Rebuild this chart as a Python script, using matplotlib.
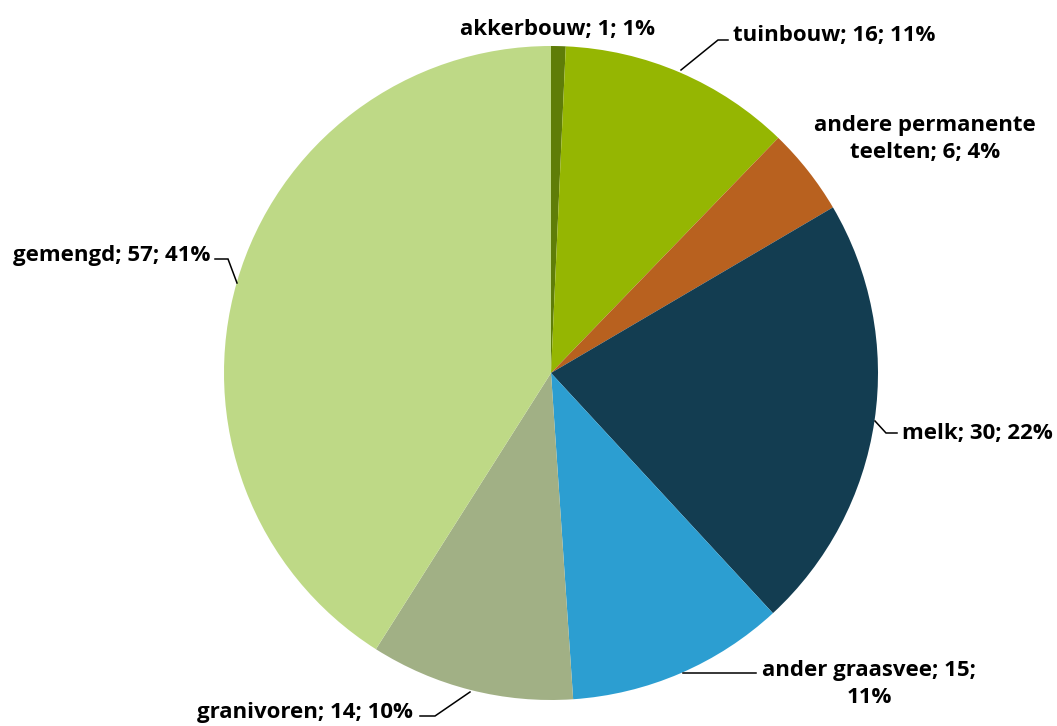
import matplotlib
matplotlib.use("Agg")
import matplotlib.pyplot as plt

categories = ["akkerbouw", "tuinbouw", "andere permanente teelten", "melk",
              "ander graasvee", "granivoren", "gemengd"]
values = [1, 16, 6, 30, 15, 14, 57]
percent_labels = ["1%", "11%", "4%", "22%", "11%", "10%", "41%"]
colors = ["#5F7D08", "#95B602", "#B8611F", "#133D51", "#2C9ED1", "#A1B085", "#BED986"]

W, H = 1057, 726
CX, CY, R = 551, 373, 327

fig = plt.figure(figsize=(W / 100, H / 100), dpi=100)
ax = fig.add_axes([(CX - R) / W, (H - CY - R) / H, 2 * R / W, 2 * R / H])
ax.pie(values, colors=colors, startangle=90, counterclock=False, radius=1,
       wedgeprops=dict(linewidth=0))
ax.set_xlim(-1, 1)
ax.set_ylim(-1, 1)
ax.set_aspect("equal")
ax.axis("off")


def p(x, y):
    return ((x - CX) / R, (CY - y) / R)


font = dict(family=["Open Sans", "DejaVu Sans"], fontweight="bold", fontsize=16, color="#000000")

texts = [f"{c}; {v}; {pc}" for c, v, pc in zip(categories, values, percent_labels)]
texts[2] = "andere permanente\nteelten; 6; 4%"
texts[4] = "ander graasvee; 15;\n11%"

# label anchor (pixel), alignment, leader polyline (pixel)
layout = [
    ((557, 29), "center", None),
    ((733, 36), "left", [(681, 70), (718, 40), (728, 40)]),
    ((925, 139), "center", None),
    ((902, 433), "left", [(875, 421), (886, 433), (897, 433)]),
    ((869, 684), "center", [(683, 673), (756, 673)]),
    ((413, 713), "right", [(470, 692), (435, 716), (420, 716)]),
    ((210, 255), "right", [(237, 283), (228, 259), (215, 259)]),
]

for txt, (pos, ha, line) in zip(texts, layout):
    x, y = p(*pos)
    ax.text(x, y, txt, ha=ha, va="center", multialignment="center",
            linespacing=1.35, clip_on=False, **font)
    if line:
        xs, ys = zip(*[p(*q) for q in line])
        ax.plot(xs, ys, color="#000000", lw=1.1, clip_on=False, solid_joinstyle="miter")

fig.savefig("out.png", dpi=100, facecolor="white")
